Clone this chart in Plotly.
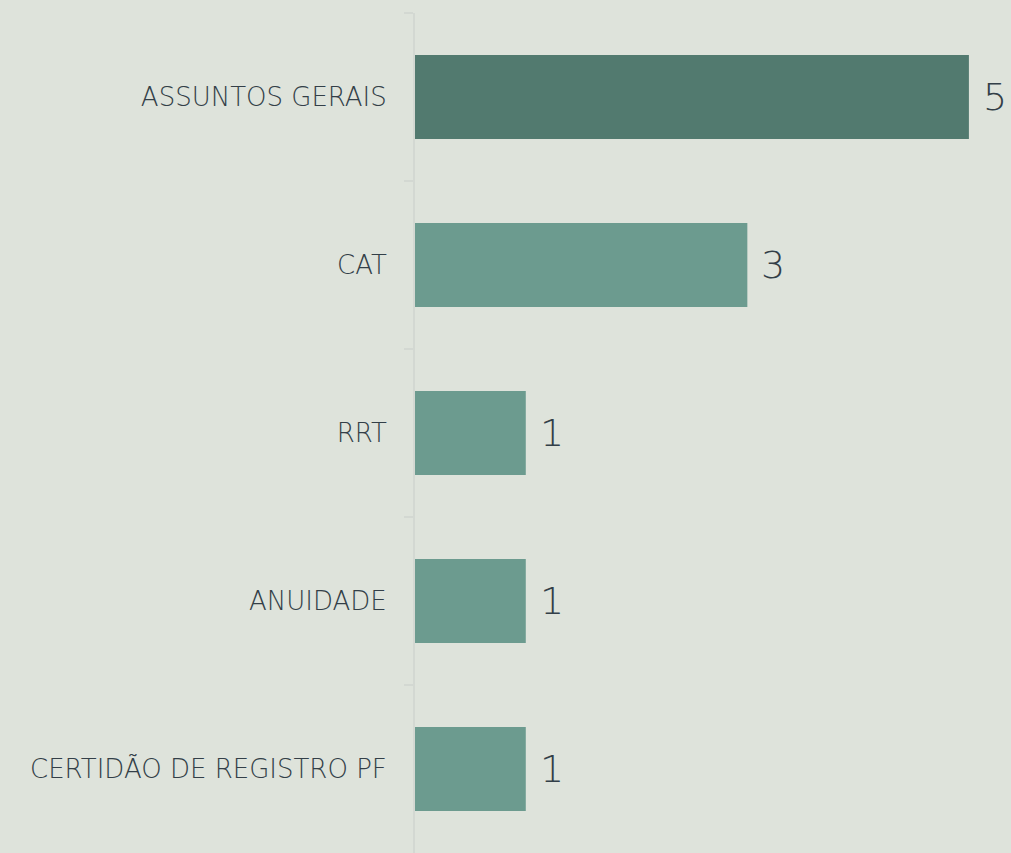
import plotly.graph_objects as go

categories = ["ASSUNTOS GERAIS", "CAT", "RRT", "ANUIDADE", "CERTIDÃO DE REGISTRO PF"]
values = [5, 3, 1, 1, 1]

BG = "#DEE3DB"
DARK = "#527A6F"
LIGHT = "#6C9B8F"
TEXT = "#333F48"
FONT = "DejaVu Sans, sans-serif"

bar_colors = [DARK if v == max(values) else LIGHT for v in values]

fig = go.Figure(
    go.Bar(
        x=values,
        y=categories,
        orientation="h",
        marker_color=bar_colors,
        marker_line_width=0,
        hoverinfo="x+y",
    )
)

# value labels next to each bar
for cat, val in zip(categories, values):
    fig.add_annotation(
        x=val, y=cat, text=str(val),
        xanchor="left", yanchor="middle", xshift=12,
        showarrow=False,
        font=dict(size=38, color=TEXT, family=FONT, weight=200),
    )

fig.update_layout(
    width=1011,
    height=853,
    margin=dict(l=415, r=0, t=13, b=0),
    paper_bgcolor=BG,
    plot_bgcolor=BG,
    bargap=0.5,
    showlegend=False,
    font=dict(family=FONT, color=TEXT),
)
fig.update_xaxes(range=[0, 5.38], visible=False)
fig.update_yaxes(
    autorange="reversed",
    showline=True,
    linecolor="#D3D8D2",
    linewidth=2,
    showgrid=False,
    ticks="outside",
    tickson="boundaries",
    ticklen=9,
    tickcolor="#D3D8D2",
    tickwidth=2,
    ticklabelstandoff=21,
    tickfont=dict(size=26, color=TEXT, family=FONT, weight=200),
)

fig.write_html(
    "out.html",
    config={"displayModeBar": False},
    post_script="document.body.style.margin='0';document.body.style.background='" + BG + "';",
)
